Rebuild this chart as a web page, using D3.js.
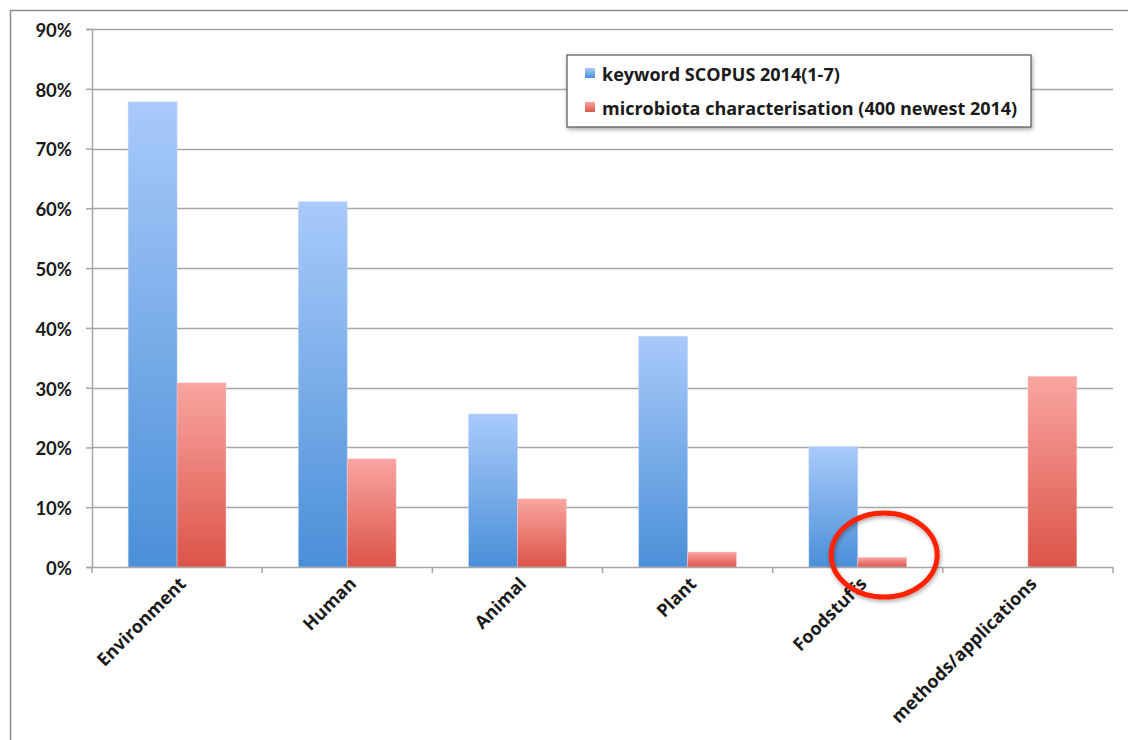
<!DOCTYPE html>
<html>
<head>
<meta charset="utf-8">
<script src="https://cdn.jsdelivr.net/npm/d3@7"></script>
<style>
  body { margin: 0; background: #fff; }
  svg { display: block; font-family: "Open Sans", Lato, sans-serif; }
</style>
</head>
<body>
<svg id="chart" width="1128" height="740"></svg>
<script>
const categories = ["Environment", "Human", "Animal", "Plant", "Foodstuffs", "methods/applications"];
const seriesNames = ["keyword SCOPUS 2014(1-7)", "microbiota characterisation (400 newest 2014)"];
const keywordScopus = [0.778, 0.611, 0.256, 0.386, 0.201, 0];
const microbiotaChar = [0.308, 0.181, 0.114, 0.025, 0.016, 0.319];
const yTicks = [0, 0.1, 0.2, 0.3, 0.4, 0.5, 0.6, 0.7, 0.8, 0.9];

const svg = d3.select("#chart");
const margin = { left: 92, right: 15, top: 29, bottom: 173 };
const W = 1128, H = 740;
const x0 = margin.left, x1 = W - margin.right;
const yTop = margin.top, yBot = H - margin.bottom;

// gradients for the bars
const defs = svg.append("defs");
function grad(id, top, bottom) {
  const g = defs.append("linearGradient").attr("id", id)
    .attr("x1", 0).attr("y1", 0).attr("x2", 0).attr("y2", 1);
  g.append("stop").attr("offset", "0%").attr("stop-color", top);
  g.append("stop").attr("offset", "100%").attr("stop-color", bottom);
}
grad("gBlue", "#a9cafa", "#4a8fd8");
grad("gRed", "#f9a5a1", "#dc5448");
const shadow = defs.append("filter").attr("id", "soft").attr("x", "-20%").attr("y", "-20%").attr("width", "140%").attr("height", "140%");
shadow.append("feGaussianBlur").attr("in", "SourceAlpha").attr("stdDeviation", 2).attr("result", "b");
shadow.append("feOffset").attr("in", "b").attr("dx", 1).attr("dy", 2).attr("result", "o");
shadow.append("feComponentTransfer").attr("in", "o").attr("result", "s")
  .append("feFuncA").attr("type", "linear").attr("slope", 0.35);
const m = shadow.append("feMerge");
m.append("feMergeNode").attr("in", "s");
m.append("feMergeNode").attr("in", "SourceGraphic");

// outer frame
svg.append("path").attr("d", `M10.5,740 V10.5 H1128`)
  .attr("fill", "none").attr("stroke", "#8c8c8c").attr("stroke-width", 1.5);

const x = d3.scaleBand().domain(categories).range([x0, x1]).paddingInner(0).paddingOuter(0);
const xs = d3.scaleBand().domain([0, 1]).range([0, x.bandwidth()]).paddingInner(0).paddingOuter(0.74);
const y = d3.scaleLinear().domain([0, 0.9]).range([yBot, yTop]);

// gridlines
svg.append("g").selectAll("line").data(yTicks.filter(d => d > 0)).join("line")
  .attr("x1", x0).attr("x2", x1)
  .attr("y1", d => Math.round(y(d)) + 0.5).attr("y2", d => Math.round(y(d)) + 0.5)
  .attr("stroke", "#a6a6a6").attr("stroke-width", 1.5);

// y axis
const yAxis = svg.append("g").attr("transform", `translate(${x0},0)`)
  .call(d3.axisLeft(y).tickValues(yTicks).tickFormat(d3.format(".0%")).tickSize(6).tickPadding(14));
yAxis.select(".domain").attr("stroke", "#a6a6a6").attr("stroke-width", 1.5);
yAxis.selectAll(".tick line").attr("stroke", "#a6a6a6").attr("stroke-width", 1.5);
yAxis.selectAll("text").attr("font-size", 18.5).attr("font-weight", 700).attr("fill", "#1a1a1a")
  .attr("font-family", "Lato, sans-serif").attr("dy", "0.4em");

// bars
const series = [keywordScopus, microbiotaChar];
const fills = ["url(#gBlue)", "url(#gRed)"];
series.forEach((vals, si) => {
  svg.append("g").selectAll("rect").data(categories).join("rect")
    .attr("x", d => x(d) + xs(si))
    .attr("width", xs.bandwidth())
    .attr("y", (d, i) => y(vals[i]))
    .attr("height", (d, i) => yBot - y(vals[i]))
    .attr("fill", fills[si])
    .attr("stroke", si === 0 ? "rgba(190,215,250,0.6)" : "rgba(250,200,200,0.6)")
    .attr("stroke-width", 0.8);
});

// x axis
const xAxisLine = svg.append("g").attr("transform", `translate(0,${yBot})`);
xAxisLine.append("line").attr("x1", x0).attr("x2", x1).attr("y1", 0.5).attr("y2", 0.5)
  .attr("stroke", "#a6a6a6").attr("stroke-width", 1.5);
const boundaries = categories.map(c => x(c)).concat([x1]);
xAxisLine.selectAll("line.tk").data(boundaries).join("line").attr("class", "tk")
  .attr("x1", d => d).attr("x2", d => d).attr("y1", 0).attr("y2", 6)
  .attr("stroke", "#a6a6a6").attr("stroke-width", 1.5);

svg.append("g").selectAll("text").data(categories).join("text")
  .attr("transform", d => `translate(${x(d) + x.bandwidth() / 2 + 10},${yBot + 18}) rotate(-45)`)
  .attr("text-anchor", "end")
  .attr("font-size", 18).attr("font-weight", 700).attr("fill", "#1a1a1a")
  .text(d => d);

// legend
const lg = svg.append("g").attr("transform", "translate(567,55)");
lg.append("rect").attr("width", 464).attr("height", 72)
  .attr("fill", "#fff").attr("stroke", "#555").attr("stroke-width", 1.2).attr("filter", "url(#soft)");
seriesNames.forEach((n, i) => {
  lg.append("rect").attr("x", 18).attr("y", 13 + i * 34).attr("width", 10).attr("height", 10)
    .attr("fill", i === 0 ? "url(#gBlue)" : "url(#gRed)");
  lg.append("text").attr("x", 35).attr("y", 26 + i * 34)
    .attr("font-size", 18).attr("font-weight", 700).attr("fill", "#1a1a1a").text(n);
});

// highlight around the Foodstuffs microbiota bar
const cx = x("Foodstuffs") + xs(1) + xs.bandwidth() / 2 + 2;
svg.append("ellipse").attr("cx", cx).attr("cy", y(0.02)).attr("rx", 53).attr("ry", 42)
  .attr("fill", "none").attr("stroke", "#ff2200").attr("stroke-width", 5)
  .attr("filter", "url(#soft)");
</script>
</body>
</html>
